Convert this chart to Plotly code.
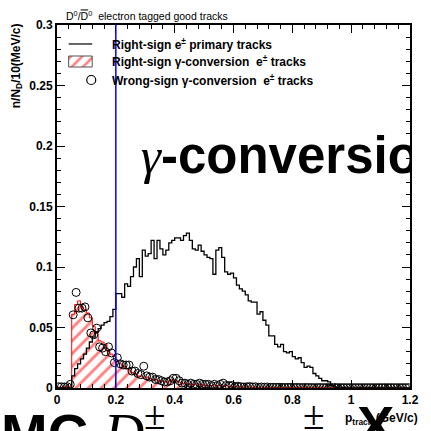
import plotly.graph_objects as go

# 10 MeV/c bins from 0 to 1.2 GeV/c
bin_width = 0.01
n_bins = 120
bin_edges = [round(i * bin_width, 2) for i in range(n_bins + 1)]
bin_centers = [round((i + 0.5) * bin_width, 3) for i in range(n_bins)]

# Right-sign e+- primary tracks
primary = [
    0, 0, 0, 0, 0, 0.010, 0.016, 0.020, 0.024, 0.028,
    0.033, 0.038, 0.042, 0.046, 0.049, 0.052, 0.054, 0.055, 0.059, 0.065,
    0.078, 0.078, 0.075, 0.086, 0.084, 0.092, 0.100, 0.107, 0.092, 0.114,
    0.109, 0.111, 0.122, 0.107, 0.122, 0.115, 0.110, 0.114, 0.120, 0.122,
    0.124, 0.124, 0.122, 0.126, 0.128, 0.122, 0.115, 0.114, 0.118, 0.113,
    0.110, 0.108, 0.107, 0.094, 0.114, 0.116, 0.108, 0.096, 0.094, 0.095,
    0.091, 0.085, 0.082, 0.080, 0.077, 0.072, 0.071, 0.071, 0.061, 0.063,
    0.056, 0.052, 0.043, 0.043, 0.036, 0.034, 0.036, 0.030, 0.029, 0.030,
    0.026, 0.024, 0.025, 0.021, 0.017, 0.018, 0.017, 0.012, 0.010, 0.008,
    0.006, 0.006, 0.005, 0.002, 0.001, 0.0005, 0, 0.0005, 0, 0,
    0, 0, 0, 0, 0, 0, 0, 0, 0, 0,
    0, 0, 0, 0, 0, 0, 0, 0, 0, 0,
]

# Right-sign gamma-conversion e+- tracks
conv_right = [
    0.0008, 0.0005, 0.001, 0.0008, 0.0015, 0.061, 0.069, 0.072, 0.067, 0.065,
    0.062, 0.058, 0.051, 0.045, 0.039, 0.038, 0.036, 0.030, 0.028, 0.026,
    0.022, 0.020, 0.018, 0.016, 0.015, 0.013, 0.012, 0.010, 0.010, 0.008,
    0.009, 0.008, 0.007, 0.007, 0.006, 0.006, 0.005, 0.005, 0.006, 0.007,
    0.006, 0.005, 0.004, 0.004, 0.0035, 0.003, 0.003, 0.0035, 0.003, 0.0025,
    0.0025, 0.002, 0.002, 0.0025, 0.002, 0.002, 0.0015, 0.002, 0.0015, 0.001,
    0.0015, 0.001, 0.001, 0.0008, 0.001, 0.0008, 0.0006, 0.0008, 0.0005, 0.0006,
    0.0005, 0.0005, 0.0006, 0.0004, 0.0005, 0.0004, 0.0005, 0.0003, 0.0004, 0.0004,
    0.0003, 0.0004, 0.0003, 0.0003, 0.0004, 0.0003, 0.0003, 0.0002, 0.0003, 0.0003,
    0.0002, 0.0003, 0.0002, 0.0002, 0.0003, 0.0002, 0.0002, 0.0002, 0.0003, 0.0002,
    0.0002, 0.0002, 0.0002, 0.0003, 0.0002, 0.0002, 0.0002, 0.0002, 0.0002, 0.0002,
    0.0002, 0.0002, 0.0003, 0.0002, 0.0002, 0.0002, 0.0002, 0.0002, 0.0002, 0.0002,
]

# Wrong-sign gamma-conversion e+- tracks
conv_wrong = [
    0.001, 0.001, 0.0008, 0.001, 0.003, 0.0605, 0.079, 0.066, 0.066, 0.067,
    0.058, 0.0455, 0.044, 0.0495, 0.034, 0.033, 0.030, 0.034, 0.029, 0.021,
    0.025, 0.020, 0.019, 0.019, 0.019, 0.014, 0.014, 0.012, 0.011, 0.018,
    0.010, 0.009, 0.009, 0.007, 0.007, 0.006, 0.005, 0.005, 0.006, 0.008,
    0.008, 0.006, 0.004, 0.004, 0.003, 0.004, 0.003, 0.003, 0.004, 0.003,
    0.003, 0.003, 0.002, 0.003, 0.002, 0.003, 0.004, 0.002, 0.002, 0.002,
    0.001, 0.0015, 0.001, 0.0008, 0.001, 0.0012, 0.0008, 0.001, 0.0006, 0.0008,
    0.0006, 0.0008, 0.0005, 0.0006, 0.0005, 0.0006, 0.0005, 0.0004, 0.0005, 0.0005,
    0.0004, 0.0005, 0.0004, 0.0004, 0.0005, 0.0004, 0.0004, 0.0003, 0.0004, 0.0004,
    0.0003, 0.0004, 0.0003, 0.0003, 0.0004, 0.0003, 0.0003, 0.0003, 0.0003, 0.0003,
    0.0003, 0.0003, 0.0003, 0.0003, 0.0003, 0.0003, 0.0003, 0.0003, 0.0003, 0.0003,
    0.0003, 0.0003, 0.0003, 0.0003, 0.0003, 0.0003, 0.0003, 0.0003, 0.0003, 0.0003,
]

momentum_cut = 0.2

x_ticks = [0, 0.2, 0.4, 0.6, 0.8, 1, 1.2]
x_tick_labels = ["0", "0.2", "0.4", "0.6", "0.8", "1", "1.2"]
y_ticks = [0, 0.05, 0.1, 0.15, 0.2, 0.25, 0.3]
y_tick_labels = ["0", "0.05", "0.1", "0.15", "0.2", "0.25", "0.3"]

legend_labels = [
    "Right-sign e<sup>±</sup> primary tracks",
    "Right-sign γ-conversion  e<sup>±</sup> tracks",
    "Wrong-sign γ-conversion  e<sup>±</sup> tracks",
]

SANS = "Liberation Sans, Arial, sans-serif"
SERIF_SPAN = '<span style="font-family:Liberation Serif;font-weight:normal">'


def steps(values):
    # repeat the last bin so the hv step closes at the upper edge
    return list(values) + [values[-1]]


fig = go.Figure()

# hatched conversion histogram
fig.add_trace(go.Scatter(
    x=bin_edges, y=steps(conv_right), mode="lines",
    line=dict(color="red", width=1, shape="hv"),
    fill="tozeroy", fillcolor="rgba(0,0,0,0)",
    fillpattern=dict(shape="/", fgcolor="red", size=9, solidity=0.32),
    showlegend=False, hoverinfo="skip",
))

# primary track histogram
fig.add_trace(go.Scatter(
    x=bin_edges, y=steps(primary), mode="lines",
    line=dict(color="black", width=1.3, shape="hv"),
    showlegend=False, hoverinfo="skip",
))

# wrong-sign points
fig.add_trace(go.Scatter(
    x=bin_centers, y=conv_wrong, mode="markers",
    marker=dict(symbol="circle-open", size=8, color="black", line=dict(width=1)),
    showlegend=False, hoverinfo="skip", cliponaxis=True,
))

# large overlay label, clipped at the frame
fig.add_trace(go.Scatter(
    x=[0.285], y=[0.188], mode="text",
    text=[SERIF_SPAN + '<i>γ</i></span>-conversion'],
    textposition="middle right",
    textfont=dict(family=SANS, size=51, color="black", weight="bold"),
    cliponaxis=True, showlegend=False, hoverinfo="skip",
))

# legend keys drawn on an overlay axis spanning the frame (0..1)
fig.add_trace(go.Scatter(
    x=[0.033, 0.0997], y=[0.9477, 0.9477], mode="lines",
    line=dict(color="black", width=1.2),
    xaxis="x2", yaxis="y2", showlegend=False, hoverinfo="skip",
))
fig.add_trace(go.Scatter(
    x=[0.033, 0.0997, 0.0997, 0.033, 0.033],
    y=[0.8843, 0.8843, 0.9146, 0.9146, 0.8843], mode="lines",
    line=dict(color="#555555", width=1),
    fill="toself", fillcolor="rgba(0,0,0,0)",
    fillpattern=dict(shape="/", fgcolor="red", size=8, solidity=0.32),
    xaxis="x2", yaxis="y2", showlegend=False, hoverinfo="skip",
))
fig.add_trace(go.Scatter(
    x=[0.097], y=[0.8485], mode="markers",
    marker=dict(symbol="circle-open", size=9, color="black", line=dict(width=1.2)),
    xaxis="x2", yaxis="y2", showlegend=False, hoverinfo="skip",
))

annotations = []

# large caption under the frame, cut by the page edge
annotations.append(dict(
    x=-0.165, y=-0.012, xref="paper", yref="paper", xanchor="left", yanchor="top",
    showarrow=False,
    text="MC " + SERIF_SPAN + "<i>D</i><sup>±</sup></span>",
    font=dict(family=SANS, size=56, color="black", weight="bold"),
))
annotations.append(dict(
    x=0.69, y=-0.012, xref="paper", yref="paper", xanchor="left", yanchor="top",
    showarrow=False,
    text=SERIF_SPAN + "<sup>±</sup></span>",
    font=dict(family=SANS, size=56, color="black", weight="bold"),
))
annotations.append(dict(
    x=0.845, y=-0.012, xref="paper", yref="paper", xanchor="left", yanchor="top",
    showarrow=False,
    text="X",
    font=dict(family=SANS, size=56, color="black", weight="bold"),
))

legend_y = [0.9477, 0.8995, 0.8485]
for lab, yy in zip(legend_labels, legend_y):
    annotations.append(dict(
        x=0.1496, y=yy, xref="paper", yref="paper", text=lab,
        showarrow=False, xanchor="left", yanchor="middle",
        font=dict(family=SANS, size=12, color="black", weight="bold"),
    ))

# pad title
annotations.append(dict(
    x=0.0194, y=1.0275, xref="paper", yref="paper",
    xanchor="left", yanchor="middle", showarrow=False,
    text=('D<sup>0</sup>/<span style="text-decoration:overline">D</span>'
          '<sup>0</sup>  electron tagged good tracks'),
    font=dict(family=SANS, size=10.5, color="black"),
))

# axis titles
annotations.append(dict(
    x=1.028, y=-0.085, xref="paper", yref="paper", xanchor="right", yanchor="middle",
    showarrow=False,
    text="p<sub>track</sub> (GeV/c)",
    font=dict(family=SANS, size=12, color="black", weight="bold"),
))
annotations.append(dict(
    x=-0.115, y=1.01, xref="paper", yref="paper", xanchor="center", yanchor="top",
    showarrow=False, textangle=-90,
    text="n/N<sub>D</sub>/10(MeV/c)",
    font=dict(family=SANS, size=12, color="black", weight="bold"),
))

fig.update_layout(
    width=431, height=431,
    margin=dict(l=57, r=13, t=25, b=43),
    paper_bgcolor="white", plot_bgcolor="white",
    showlegend=False,
    annotations=annotations,
    shapes=[dict(
        type="line", xref="x", yref="y", layer="above",
        x0=momentum_cut, x1=momentum_cut, y0=0, y1=0.3,
        line=dict(color="blue", width=1.5),
    )],
    xaxis=dict(
        range=[0, 1.2], tickvals=x_ticks, ticktext=x_tick_labels,
        ticks="inside", ticklen=8, tickwidth=1, tickcolor="black",
        minor=dict(dtick=0.04, ticklen=4, tickcolor="black", ticks="inside"),
        showline=True, linecolor="black", linewidth=2, mirror="ticks",
        showgrid=False, zeroline=False,
        tickfont=dict(family=SANS, size=12, color="black", weight="bold"),
    ),
    yaxis=dict(
        range=[0, 0.3], tickvals=y_ticks, ticktext=y_tick_labels,
        ticks="inside", ticklen=8, tickwidth=1, tickcolor="black",
        minor=dict(dtick=0.01, ticklen=4, tickcolor="black", ticks="inside"),
        showline=True, linecolor="black", linewidth=2, mirror="ticks",
        showgrid=False, zeroline=False,
        tickfont=dict(family=SANS, size=12, color="black", weight="bold"),
    ),
    xaxis2=dict(range=[0, 1], overlaying="x", visible=False, fixedrange=True),
    yaxis2=dict(range=[0, 1], overlaying="y", visible=False, fixedrange=True),
)

fig.write_html("out.html")
